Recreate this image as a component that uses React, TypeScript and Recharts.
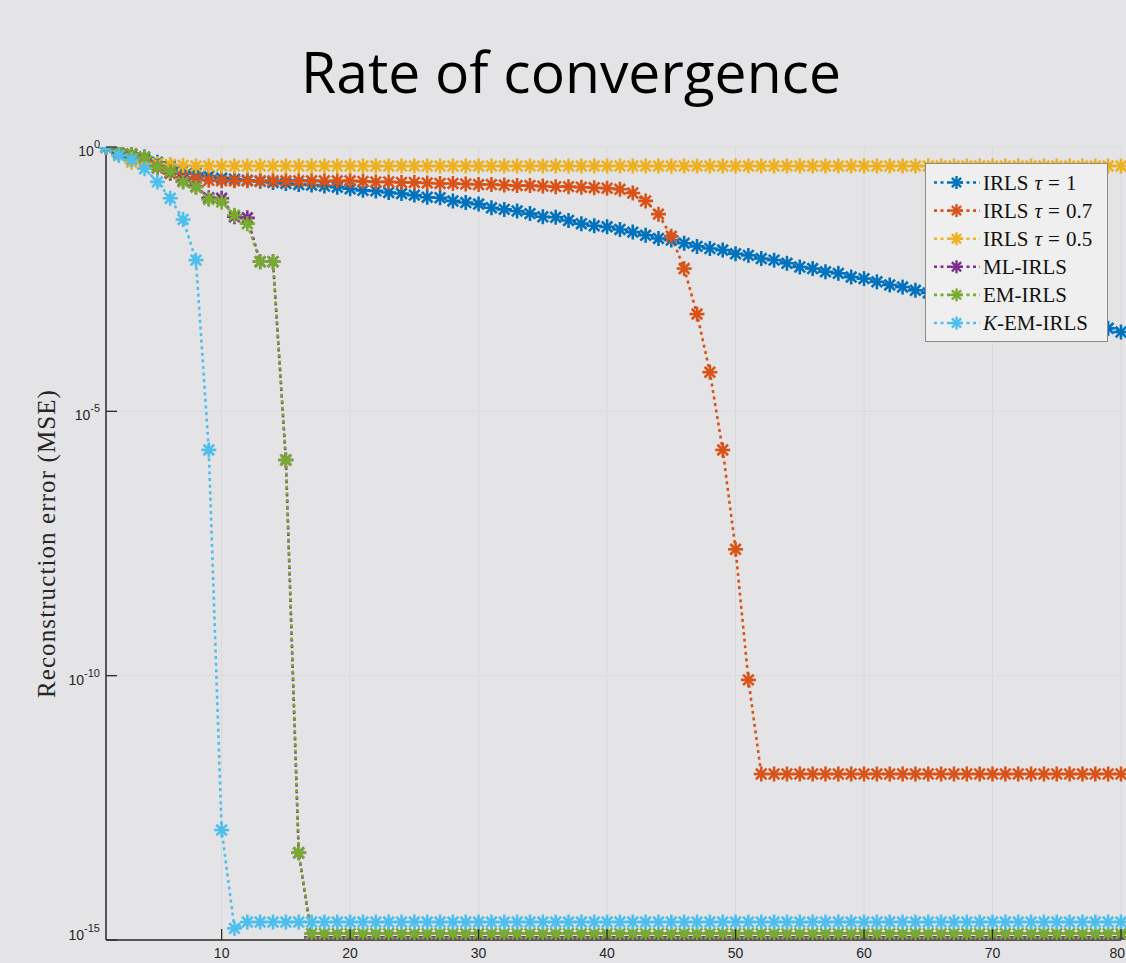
import React from 'react';
import { LineChart, Line, XAxis, YAxis, CartesianGrid, Legend } from 'recharts';

// Iteration index (x axis categories)
const iterations = Array.from({ length: 80 }, (_, i) => i + 1);

// log10 of reconstruction error (MSE)
const irlsTau1Log10 = [
  0, -0.12, -0.19, -0.23, -0.29, -0.36, -0.44, -0.5, -0.55, -0.59,
  -0.61, -0.63, -0.65, -0.67, -0.69, -0.71, -0.72, -0.74, -0.76, -0.79,
  -0.82, -0.83, -0.86, -0.88, -0.91, -0.95, -0.96, -1.02, -1.05, -1.08,
  -1.15, -1.18, -1.21, -1.26, -1.32, -1.33, -1.39, -1.45, -1.49, -1.51,
  -1.56, -1.61, -1.67, -1.73, -1.76, -1.82, -1.88, -1.92, -1.95, -2.02,
  -2.05, -2.11, -2.14, -2.2, -2.27, -2.3, -2.36, -2.39, -2.46, -2.49,
  -2.55, -2.61, -2.65, -2.71, -2.76, -2.8, -2.86, -2.91, -2.95, -3.0,
  -3.05, -3.1, -3.14, -3.19, -3.24, -3.29, -3.33, -3.38, -3.43, -3.5,
];

const irlsTau07Log10 = [
  0, -0.06, -0.15, -0.28, -0.4, -0.5, -0.57, -0.6, -0.63, -0.64,
  -0.64, -0.64, -0.64, -0.64, -0.64, -0.64, -0.64, -0.64, -0.64, -0.64,
  -0.65, -0.66, -0.66, -0.67, -0.67, -0.68, -0.69, -0.69, -0.7, -0.71,
  -0.71, -0.72, -0.73, -0.73, -0.74, -0.75, -0.75, -0.76, -0.77, -0.78,
  -0.8, -0.87, -1.02, -1.27, -1.69, -2.3, -3.16, -4.26, -5.73, -7.61,
  -10.08, -11.86, -11.86, -11.86, -11.86, -11.86, -11.86, -11.86, -11.86, -11.86,
  -11.86, -11.86, -11.86, -11.86, -11.86, -11.86, -11.86, -11.86, -11.86, -11.86,
  -11.86, -11.86, -11.86, -11.86, -11.86, -11.86, -11.86, -11.86, -11.86, -11.86,
];

const irlsTau05Log10 = [
  0, -0.15, -0.29, -0.3, -0.31, -0.33, -0.35, -0.36, -0.36, -0.36,
  -0.36, -0.36, -0.36, -0.36, -0.36, -0.36, -0.36, -0.36, -0.36, -0.36,
  -0.36, -0.36, -0.36, -0.36, -0.36, -0.36, -0.36, -0.36, -0.36, -0.36,
  -0.36, -0.36, -0.36, -0.36, -0.36, -0.36, -0.36, -0.36, -0.36, -0.36,
  -0.36, -0.36, -0.36, -0.36, -0.36, -0.36, -0.36, -0.36, -0.36, -0.36,
  -0.36, -0.36, -0.36, -0.36, -0.36, -0.36, -0.36, -0.36, -0.36, -0.36,
  -0.36, -0.36, -0.36, -0.36, -0.36, -0.36, -0.36, -0.36, -0.36, -0.36,
  -0.36, -0.36, -0.36, -0.36, -0.36, -0.36, -0.36, -0.36, -0.36, -0.36,
];

const mlIrlsLog10 = [
  0, -0.07, -0.13, -0.19, -0.37, -0.48, -0.64, -0.75, -0.96, -0.97,
  -1.32, -1.34, -2.17, -2.17, -5.92, -13.35, -14.95, -14.95, -14.95, -14.95,
  -14.95, -14.95, -14.95, -14.95, -14.95, -14.95, -14.95, -14.95, -14.95, -14.95,
  -14.95, -14.95, -14.95, -14.95, -14.95, -14.95, -14.95, -14.95, -14.95, -14.95,
  -14.95, -14.95, -14.95, -14.95, -14.95, -14.95, -14.95, -14.95, -14.95, -14.95,
  -14.95, -14.95, -14.95, -14.95, -14.95, -14.95, -14.95, -14.95, -14.95, -14.95,
  -14.95, -14.95, -14.95, -14.95, -14.95, -14.95, -14.95, -14.95, -14.95, -14.95,
  -14.95, -14.95, -14.95, -14.95, -14.95, -14.95, -14.95, -14.95, -14.95, -14.95,
];

const emIrlsLog10 = [
  0, -0.07, -0.13, -0.19, -0.38, -0.47, -0.66, -0.76, -0.99, -1.04,
  -1.29, -1.45, -2.17, -2.17, -5.92, -13.35, -14.88, -14.88, -14.88, -14.88,
  -14.88, -14.88, -14.88, -14.88, -14.88, -14.88, -14.88, -14.88, -14.88, -14.88,
  -14.88, -14.88, -14.88, -14.88, -14.88, -14.88, -14.88, -14.88, -14.88, -14.88,
  -14.88, -14.88, -14.88, -14.88, -14.88, -14.88, -14.88, -14.88, -14.88, -14.88,
  -14.88, -14.88, -14.88, -14.88, -14.88, -14.88, -14.88, -14.88, -14.88, -14.88,
  -14.88, -14.88, -14.88, -14.88, -14.88, -14.88, -14.88, -14.88, -14.88, -14.88,
  -14.88, -14.88, -14.88, -14.88, -14.88, -14.88, -14.88, -14.88, -14.88, -14.88,
];

const kEmIrlsLog10 = [
  0, -0.16, -0.24, -0.41, -0.66, -0.97, -1.37, -2.14, -5.73, -12.92,
  -14.78, -14.66, -14.66, -14.66, -14.66, -14.66, -14.66, -14.66, -14.66, -14.66,
  -14.66, -14.66, -14.66, -14.66, -14.66, -14.66, -14.66, -14.66, -14.66, -14.66,
  -14.66, -14.66, -14.66, -14.66, -14.66, -14.66, -14.66, -14.66, -14.66, -14.66,
  -14.66, -14.66, -14.66, -14.66, -14.66, -14.66, -14.66, -14.66, -14.66, -14.66,
  -14.66, -14.66, -14.66, -14.66, -14.66, -14.66, -14.66, -14.66, -14.66, -14.66,
  -14.66, -14.66, -14.66, -14.66, -14.66, -14.66, -14.66, -14.66, -14.66, -14.66,
  -14.66, -14.66, -14.66, -14.66, -14.66, -14.66, -14.66, -14.66, -14.66, -14.66,
];

const xTicks = [10, 20, 30, 40, 50, 60, 70, 80];
const yTicks = [1e-15, 1e-10, 1e-5, 1];

const titleText = 'Rate of convergence';
const yLabelText = 'Reconstruction error (MSE)';

type Part = { t: string; i?: boolean; dx?: number };
const SERIES: { key: string; name: string; color: string; values: number[]; label: Part[] }[] = [
  { key: 'irls1', name: 'IRLS τ = 1', color: '#0072BD', values: irlsTau1Log10, label: [{ t: 'IRLS' }, { t: 'τ', i: true, dx: 6 }, { t: '=', dx: 6 }, { t: '1', dx: 6 }] },
  { key: 'irls07', name: 'IRLS τ = 0.7', color: '#D95319', values: irlsTau07Log10, label: [{ t: 'IRLS' }, { t: 'τ', i: true, dx: 6 }, { t: '=', dx: 6 }, { t: '0.7', dx: 6 }] },
  { key: 'irls05', name: 'IRLS τ = 0.5', color: '#EDB120', values: irlsTau05Log10, label: [{ t: 'IRLS' }, { t: 'τ', i: true, dx: 6 }, { t: '=', dx: 6 }, { t: '0.5', dx: 6 }] },
  { key: 'ml', name: 'ML-IRLS', color: '#7E2F8E', values: mlIrlsLog10, label: [{ t: 'ML-IRLS' }] },
  { key: 'em', name: 'EM-IRLS', color: '#77AC30', values: emIrlsLog10, label: [{ t: 'EM-IRLS' }] },
  { key: 'kem', name: 'K-EM-IRLS', color: '#4DBEEE', values: kEmIrlsLog10, label: [{ t: 'K', i: true }, { t: '-EM-IRLS' }] },
];

const data = iterations.map((x, i) => {
  const row: any = { x };
  SERIES.forEach((s) => {
    row[s.key] = Math.pow(10, s.values[i]);
  });
  return row;
});

const BG = '#e4e4e6';
const AXIS = '#2a2a2a';
const TICK_FONT = '"Liberation Sans", Arial, sans-serif';
const SERIF = '"Liberation Serif", "Times New Roman", serif';

function Star({ cx, cy, color, r = 7.5, sw = 2.6 }: { cx: number; cy: number; color: string; r?: number; sw?: number }) {
  const d = r * Math.SQRT1_2;
  return (
    <g stroke={color} strokeWidth={sw} strokeDasharray="none" fill="none">
      <line x1={cx - r} y1={cy} x2={cx + r} y2={cy} />
      <line x1={cx} y1={cy - r} x2={cx} y2={cy + r} />
      <line x1={cx - d} y1={cy - d} x2={cx + d} y2={cy + d} />
      <line x1={cx - d} y1={cy + d} x2={cx + d} y2={cy - d} />
    </g>
  );
}

const BottomTick = (p: any) => {
  const { x, y, payload } = p;
  const last = payload.value === 80;
  return (
    <g>
      <line x1={x} y1={y} x2={x} y2={y - 11} stroke={AXIS} strokeWidth={1.3} />
      <text
        x={last ? 1125 : x}
        y={y + 18}
        textAnchor={last ? 'end' : 'middle'}
        fontSize={14}
        fill="#262626"
        fontFamily={TICK_FONT}
      >
        {payload.value}
      </text>
    </g>
  );
};

const TopTick = (p: any) => {
  const { x, y } = p;
  return <line x1={x} y1={y} x2={x} y2={y + 11} stroke={AXIS} strokeWidth={1.3} />;
};

const LeftTick = (p: any) => {
  const { x, y, payload } = p;
  const e = Math.round(Math.log10(payload.value));
  const base = e === -15 ? y : y + 9;
  return (
    <g>
      <line x1={x} y1={y} x2={x + 11} y2={y} stroke={AXIS} strokeWidth={1.3} />
      <text x={x - 6} y={base} textAnchor="end" fontSize={14} fill="#262626" fontFamily={TICK_FONT}>
        <tspan>10</tspan>
        <tspan dy={-8} fontSize={11}>{e}</tspan>
      </text>
    </g>
  );
};

const RightTick = (p: any) => {
  const { x, y } = p;
  return <line x1={x} y1={y} x2={x - 11} y2={y} stroke={AXIS} strokeWidth={1.3} />;
};

const LegendBox = () => (
  <svg width={184} height={180} style={{ display: 'block' }}>
    <rect x={0.5} y={0.5} width={182} height={178} fill="#efefef" stroke="#8a8a8a" strokeWidth={1} />
    {SERIES.map((s, i) => {
      const cy = 19.5 + i * 28.1;
      return (
        <g key={s.key}>
          <line x1={9} x2={55} y1={cy} y2={cy} stroke={s.color} strokeWidth={2.6} strokeDasharray="3 3.5" />
          <Star cx={31.5} cy={cy} color={s.color} r={6.5} sw={2.4} />
          <text x={58} y={cy + 7} fontSize={21} fontFamily={SERIF} fill="#111">
            {s.label.map((pt, j) => (
              <tspan key={j} fontStyle={pt.i ? 'italic' : 'normal'} dx={pt.dx || 0}>
                {pt.t}
              </tspan>
            ))}
          </text>
        </g>
      );
    })}
  </svg>
);

const YLabel = (p: any) => {
  const vb = p.viewBox || { x: 0, y: 147, width: 106, height: 793 };
  const cx = 46;
  const cy = vb.y + vb.height / 2;
  return (
    <text
      x={cx}
      y={cy}
      transform={`rotate(-90, ${cx}, ${cy})`}
      textAnchor="middle"
      dominantBaseline="central"
      fontSize={25}
      letterSpacing={1.1}
      fontFamily={SERIF}
      fill="#262626"
    >
      {yLabelText}
    </text>
  );
};

export default function App() {
  return (
    <div style={{ position: 'absolute', left: 0, top: 0, width: 1126, height: 963, background: BG, overflow: 'hidden' }}>
      <svg width={1126} height={120} style={{ position: 'absolute', left: 0, top: 0 }}>
        <text x={571} y={93} textAnchor="middle" fontSize={57} fontFamily='"Open Sans", sans-serif' fill="#000">
          {titleText}
        </text>
      </svg>
      <div style={{ position: 'absolute', left: 0, top: 0 }}>
        <LineChart width={1126} height={963} data={data} margin={{ top: 147, right: 5, bottom: 0, left: 0 }}>
          <CartesianGrid stroke="#dadadc" strokeWidth={1} />
          <XAxis
            dataKey="x"
            type="number"
            domain={[1, 80]}
            ticks={xTicks}
            height={23}
            tickSize={0}
            tickMargin={0}
            tickLine={false}
            tick={<BottomTick />}
            axisLine={{ stroke: AXIS, strokeWidth: 1.5 }}
            interval={0}
          />
          <XAxis
            xAxisId="top"
            orientation="top"
            dataKey="x"
            type="number"
            domain={[1, 80]}
            ticks={xTicks}
            height={0}
            tickSize={0}
            tickMargin={0}
            tickLine={false}
            tick={<TopTick />}
            axisLine={{ stroke: AXIS, strokeWidth: 1.5 }}
            interval={0}
          />
          <YAxis
            type="number"
            scale="log"
            domain={[1e-15, 1]}
            allowDataOverflow
            ticks={yTicks}
            width={106}
            tickSize={0}
            tickMargin={0}
            tickLine={false}
            tick={<LeftTick />}
            axisLine={{ stroke: AXIS, strokeWidth: 1.5 }}
            interval={0}
            label={<YLabel />}
          />
          <YAxis
            yAxisId="right"
            orientation="right"
            type="number"
            scale="log"
            domain={[1e-15, 1]}
            allowDataOverflow
            ticks={yTicks}
            width={0}
            tickSize={0}
            tickMargin={0}
            tickLine={false}
            tick={<RightTick />}
            axisLine={{ stroke: AXIS, strokeWidth: 1.5 }}
            interval={0}
          />
          {SERIES.map((s) => (
            <Line
              key={s.key}
              dataKey={s.key}
              name={s.name}
              type="linear"
              stroke={s.color}
              strokeWidth={2.6}
              strokeDasharray="3 3.6"
              isAnimationActive={false}
              activeDot={false}
              dot={(p: any) =>
                p.cx == null || p.cy == null ? (
                  <g key={`${s.key}-${p.index}`} />
                ) : (
                  <Star key={`${s.key}-${p.index}`} cx={p.cx} cy={p.cy} color={s.color} />
                )
              }
            />
          ))}
          <Legend
            layout="vertical"
            align="center"
            verticalAlign="middle"
            wrapperStyle={{ position: 'absolute', left: 925, top: 163, width: 184, height: 180 }}
            content={() => <LegendBox />}
          />
        </LineChart>
      </div>
    </div>
  );
}
